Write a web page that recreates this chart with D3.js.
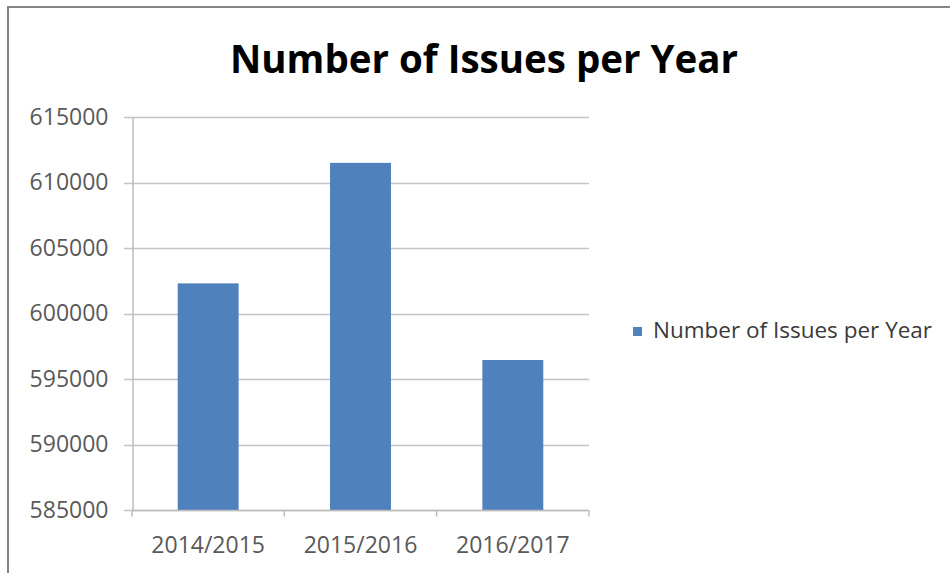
<!DOCTYPE html>
<html>
<head>
<meta charset="utf-8">
<script src="https://cdn.jsdelivr.net/npm/d3@7"></script>
<style>
  html, body { margin: 0; padding: 0; background: #fff; }
  svg { display: block; }
</style>
</head>
<body>
<svg id="chart" width="950" height="573"></svg>
<script>
// Chart data
const categories = ["2014/2015", "2015/2016", "2016/2017"];
const issues = [602300, 611500, 596450];
const yTicks = [585000, 590000, 595000, 600000, 605000, 610000, 615000];
const seriesName = "Number of Issues per Year";
const chartTitle = "Number of Issues per Year";

const svg = d3.select("#chart");
const font = "'Open Sans', 'Noto Sans', sans-serif";

// Chart area frame
svg.append("rect")
  .attr("x", 8).attr("y", 7)
  .attr("width", 960).attr("height", 600)
  .attr("fill", "#fff")
  .attr("stroke", "#858585")
  .attr("stroke-width", 2);

const plot = { left: 132, right: 589, top: 117, bottom: 510 };

const x = d3.scaleBand()
  .domain(categories)
  .range([plot.left, plot.right])
  .paddingInner(0.6)
  .paddingOuter(0.3);

const y = d3.scaleLinear()
  .domain([585000, 615000])
  .range([plot.bottom, plot.top]);

// Horizontal gridlines
svg.append("g")
  .selectAll("line")
  .data(yTicks)
  .join("line")
  .attr("x1", plot.left - 8)
  .attr("x2", plot.right)
  .attr("y1", d => Math.round(y(d)) + 0.5)
  .attr("y2", d => Math.round(y(d)) + 0.5)
  .attr("stroke", "#c4c4c4")
  .attr("stroke-width", 1.3);

// Y axis
const yAxis = svg.append("g")
  .attr("transform", `translate(${plot.left + 0.5},0)`)
  .call(d3.axisLeft(y).tickValues(yTicks).tickFormat(d3.format("d")).tickSize(0).tickPadding(24));
yAxis.select(".domain").attr("stroke", "#bdbdbd").attr("stroke-width", 1.5);
yAxis.selectAll("text")
  .attr("fill", "#595959")
  .style("font-family", font)
  .style("font-size", "23px");

// Bars
svg.append("g")
  .selectAll("rect")
  .data(issues)
  .join("rect")
  .attr("x", (d, i) => x(categories[i]))
  .attr("width", x.bandwidth())
  .attr("y", d => y(d))
  .attr("height", d => y(585000) - y(d))
  .attr("fill", "#4f81bd");

// X axis with boundary ticks between categories
const xAxisG = svg.append("g")
  .attr("transform", `translate(0,${plot.bottom + 0.5})`);
xAxisG.append("line")
  .attr("x1", plot.left).attr("x2", plot.right)
  .attr("stroke", "#bdbdbd").attr("stroke-width", 1.5);
const step = x.step();
const bounds = d3.range(categories.length + 1).map(i => plot.left + i * step);
xAxisG.selectAll("line.tick")
  .data(bounds)
  .join("line")
  .attr("class", "tick")
  .attr("x1", d => d).attr("x2", d => d)
  .attr("y1", 0).attr("y2", 6)
  .attr("stroke", "#bdbdbd").attr("stroke-width", 1.5);
xAxisG.selectAll("text")
  .data(categories)
  .join("text")
  .attr("x", d => x(d) + x.bandwidth() / 2)
  .attr("y", 42)
  .attr("text-anchor", "middle")
  .attr("fill", "#595959")
  .style("font-family", font)
  .style("font-size", "23px")
  .text(d => d);

// Title
svg.append("text")
  .attr("x", 484)
  .attr("y", 73)
  .attr("text-anchor", "middle")
  .attr("fill", "#000")
  .style("font-family", font)
  .style("font-weight", "bold")
  .style("font-size", "38.5px")
  .text(chartTitle);

// Legend
const legend = svg.append("g").attr("transform", "translate(633,327)");
legend.append("rect")
  .attr("width", 9).attr("height", 9)
  .attr("fill", "#4f81bd");
legend.append("text")
  .attr("x", 20)
  .attr("y", 11)
  .attr("fill", "#3a3a3a")
  .style("font-family", font)
  .style("font-size", "22.5px")
  .text(seriesName);
</script>
</body>
</html>
